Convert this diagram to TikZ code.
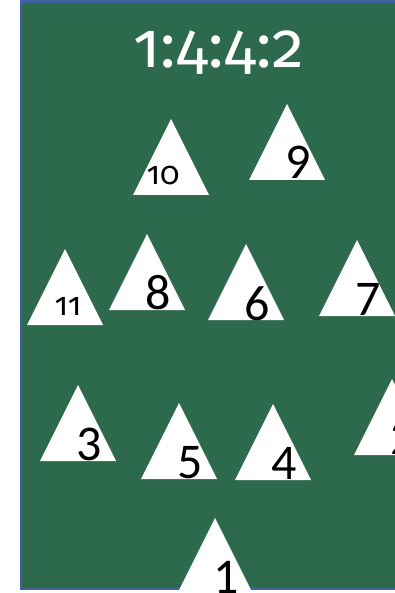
\documentclass[tikz,border=0pt]{standalone}
\usepackage{fontspec}
\setmainfont{Carlito}
\newfontfamily\titlefont[Numbers=OldStyle]{Fira Sans}
\definecolor{boardgreen}{HTML}{2D6A4D}
\definecolor{boardblue}{HTML}{3F62A0}
\tikzset{
  tri/.style={fill=white},
  biglabel/.style={font=\fontsize{50}{50}\selectfont, inner sep=0pt, anchor=base, text=black},
  smalllabel/.style={font=\titlefont\fontsize{32}{32}\selectfont, inner sep=0pt, anchor=base, text=black},
  titlelabel/.style={font=\titlefont\fontsize{64}{64}\selectfont, inner sep=0pt, anchor=base, text=white}
}
\newcommand\mytri[3]{% name, apex x, apex y
  \fill[tri] (#2,#3) -- ++(-38,76) -- ++(76,0) -- cycle;
  \coordinate (#1) at (#2,#3);}
\begin{document}
\begin{tikzpicture}[x=1pt,y=-1pt]
\useasboundingbox (0,0) rectangle (395,593);
\begin{scope}
\clip (0,0) rectangle (395,593);
\draw[fill=boardgreen, draw=boardblue, line width=2.5pt] (21,1.5) rectangle (420,589);
\node[titlelabel] (title) at (219,68) {1:4:4:2};
\mytri{t10}{171}{119}
\mytri{t9}{287}{104}
\mytri{t11}{65}{249}
\mytri{t8}{147}{234}
\mytri{t6}{246}{244}
\mytri{t7}{357}{240}
\mytri{t3}{78}{385}
\mytri{t5}{179}{403}
\mytri{t4}{273}{404}
\mytri{t2}{392}{379}
\mytri{t1}{215}{518}
\node[smalllabel] (l10) at (163,185) {10};
\node[smalllabel] (l11) at (68,315) {11};
\node[biglabel] (l9) at (298,179) {9};
\node[biglabel] (l8) at (158,309) {8};
\node[biglabel] (l6) at (257,320) {6};
\node[biglabel] (l7) at (368,315) {7};
\node[biglabel] (l3) at (89,460) {3};
\node[biglabel] (l5) at (190,478) {5};
\node[biglabel] (l4) at (284,479) {4};
\node[biglabel] (l2) at (403,454) {2};
\node[biglabel] (l1) at (226,593) {1};
\end{scope}
\end{tikzpicture}
\end{document}
